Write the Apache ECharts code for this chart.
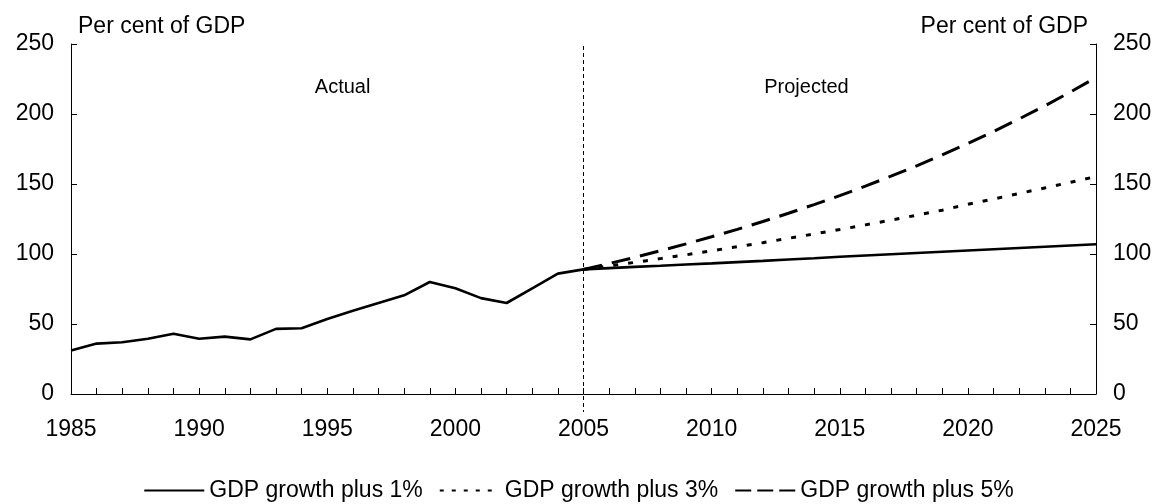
<!DOCTYPE html>
<html>
<head>
<meta charset="utf-8">
<script src="https://cdn.jsdelivr.net/npm/echarts@6/dist/echarts.min.js"></script>
<style>
html,body{margin:0;padding:0;background:#fff;}
#chart{width:1157px;height:504px;}
</style>
</head>
<body>
<div id="chart"></div>
<script>
// ---- data ----
const actualYears = [1985,1986,1987,1988,1989,1990,1991,1992,1993,1994,1995,1996,1997,1998,1999,2000,2001,2002,2003,2004,2005];
const actualValues = [31,36,37,39.5,43,39.5,41,39,46.5,47,53.5,59.5,65,70.5,80,75.5,68.5,65,75.5,86,89];

const projYears = [2005,2006,2007,2008,2009,2010,2011,2012,2013,2014,2015,2016,2017,2018,2019,2020,2021,2022,2023,2024,2025];
const plus1 = [89,89.9,90.8,91.6,92.5,93.3,94.2,95.1,96.1,97,98,98.9,99.8,100.7,101.6,102.5,103.4,104.3,105.2,106.1,107];
const plus3 = [89,91.5,94,96.7,99.4,102.3,105.2,108.1,111.2,114.3,117.5,120.8,124.2,127.7,131.3,135.5,139.3,143.2,147.2,151.2,155.3];
const plus5 = [89,93.2,97.6,102.3,107.2,112.3,117.6,123.2,129.1,135.3,141.7,148.5,155.6,163,170.8,179,187.5,196.5,205.8,215.7,226];

const seriesNames = ['GDP growth plus 1%','GDP growth plus 3%','GDP growth plus 5%'];
const axisTitle = 'Per cent of GDP';
const periodLabels = ['Actual','Projected'];
const splitYear = 2005;

const pairs = (xs, ys) => xs.map((x, i) => [x, ys[i]]);

const FONT = 'Liberation Sans, Arial, sans-serif';
const FS = 23;
const chart = echarts.init(document.getElementById('chart'));

const yAxisBase = {
  type: 'value', min: 0, max: 250, interval: 50,
  name: axisTitle,
  nameLocation: 'end',
  nameGap: 6,
  axisLine: { show: true, lineStyle: { color: '#000', width: 1 } },
  axisTick: { show: true, inside: true, length: 6, lineStyle: { color: '#000' } },
  splitLine: { show: false },
  axisLabel: { color: '#000', fontSize: FS, fontFamily: FONT, margin: 17 }
};

const option = {
  animation: false,
  backgroundColor: '#fff',
  textStyle: { fontFamily: FONT },
  grid: { left: 71, right: 61, top: 44, bottom: 110, containLabel: false },
  xAxis: {
    type: 'value', min: 1985, max: 2025, interval: 5,
    axisLine: { lineStyle: { color: '#000', width: 1 } },
    axisTick: { show: true, inside: true, length: 6, lineStyle: { color: '#000' } },
    minorTick: { show: true, splitNumber: 5, length: 6, lineStyle: { color: '#000' } },
    splitLine: { show: false },
    axisLabel: { color: '#000', fontSize: FS, fontFamily: FONT, margin: 24, formatter: v => String(v) }
  },
  yAxis: [
    Object.assign({}, yAxisBase, {
      position: 'left',
      nameTextStyle: { color: '#000', fontSize: FS, fontFamily: FONT, align: 'left', padding: [0, 0, 0, 7] }
    }),
    Object.assign({}, yAxisBase, {
      position: 'right',
      nameTextStyle: { color: '#000', fontSize: FS, fontFamily: FONT, align: 'right', padding: [0, 8, 0, 0] }
    })
  ],
  legend: {
    data: [
      { name: seriesNames[0] },
      { name: seriesNames[1], lineStyle: { type: [4, 8] } },
      { name: seriesNames[2], lineStyle: { type: [16, 6] } }
    ],
    top: 474,
    left: 'center',
    itemWidth: 60,
    itemHeight: 14,
    itemGap: 16,
    itemStyle: { opacity: 0 },
    textStyle: { color: '#000', fontSize: FS, fontFamily: FONT }
  },
  series: [
    {
      name: 'Actual', type: 'line', data: pairs(actualYears, actualValues),
      symbol: 'none', lineStyle: { color: '#000', width: 2.6, type: 'solid' }, itemStyle: { color: '#000' }
    },
    {
      name: seriesNames[0], type: 'line', data: pairs(projYears, plus1),
      symbol: 'none', lineStyle: { color: '#000', width: 2.6, type: 'solid' }, itemStyle: { color: '#000' }
    },
    {
      name: seriesNames[1], type: 'line', data: pairs(projYears, plus3),
      symbol: 'none', lineStyle: { color: '#000', width: 3, type: [5, 10] }, itemStyle: { color: '#000' }
    },
    {
      name: seriesNames[2], type: 'line', data: pairs(projYears, plus5),
      symbol: 'none', lineStyle: { color: '#000', width: 3, type: [19, 10] }, itemStyle: { color: '#000' }
    }
  ]
};
chart.setOption(option);

// vertical divider & period labels positioned through the chart's own scales
const pTop = chart.convertToPixel({ gridIndex: 0 }, [splitYear, 250]);
const pBot = chart.convertToPixel({ gridIndex: 0 }, [splitYear, 0]);
const pAct = chart.convertToPixel({ gridIndex: 0 }, [1995.6, 219]);
const pProj = chart.convertToPixel({ gridIndex: 0 }, [2013.7, 219]);
chart.setOption({
  graphic: [
    {
      type: 'line', silent: true,
      shape: { x1: pTop[0], y1: pTop[1] + 2, x2: pBot[0], y2: pBot[1] + 18 },
      style: { stroke: '#000', lineWidth: 1, lineDash: [4, 3] }
    },
    {
      type: 'text', silent: true, x: pAct[0], y: pAct[1],
      style: { text: periodLabels[0], fill: '#000', fontSize: 20, fontFamily: FONT, align: 'center', verticalAlign: 'middle' }
    },
    {
      type: 'text', silent: true, x: pProj[0], y: pProj[1],
      style: { text: periodLabels[1], fill: '#000', fontSize: 20, fontFamily: FONT, align: 'center', verticalAlign: 'middle' }
    }
  ]
});
</script>
</body>
</html>
